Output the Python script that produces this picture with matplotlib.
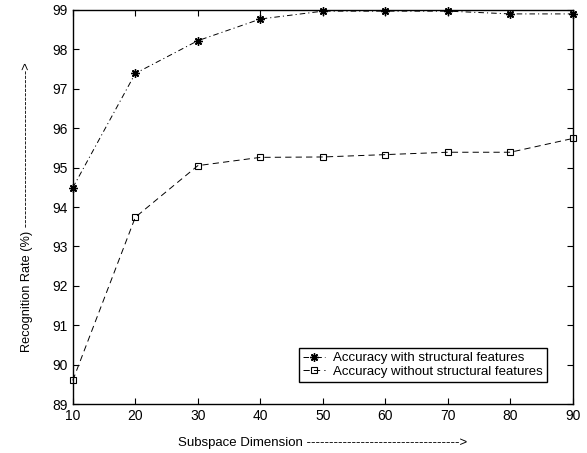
import matplotlib
matplotlib.use('Agg')
import matplotlib.pyplot as plt

plt.rcParams['font.family'] = ['Liberation Sans', 'DejaVu Sans']
plt.rcParams['lines.scale_dashes'] = False

dims = [10, 20, 30, 40, 50, 60, 70, 80, 90]
acc_with = [94.49, 97.39, 98.22, 98.77, 98.97, 98.97, 98.97, 98.9, 98.9]
acc_without = [89.6, 93.74, 95.05, 95.26, 95.27, 95.33, 95.39, 95.39, 95.74]

fig = plt.figure(figsize=(5.87, 4.53), dpi=100)
ax = fig.add_axes([0.124, 0.108, 0.852, 0.870])

ax.plot(dims, acc_with, color='k', linestyle=(0, (4, 2.2, 0.8, 2.2)), linewidth=0.7,
        marker=(8, 2, 0), markersize=6, markeredgewidth=1.0,
        label='Accuracy with structural features', clip_on=False)
ax.plot(dims, acc_without, color='k', linestyle=(0, (4.5, 3)), linewidth=0.7, marker='s',
        markersize=4.5, markerfacecolor='none', markeredgewidth=0.8,
        label='Accuracy without structural features', clip_on=False)

ax.set_xlim(10, 90)
ax.set_ylim(89, 99)
ax.set_xticks(range(10, 91, 10))
ax.set_yticks(range(89, 100))
ax.tick_params(direction='in', top=True, right=True, labelsize=10, length=4, width=0.8)
for s in ax.spines.values():
    s.set_linewidth(1.0)

ax.set_xlabel('Subspace Dimension ' + '-' * 34 + '>', fontsize=9.5, labelpad=10)
ax.set_ylabel('Recognition Rate (%) ' + '-' * 36 + '>', fontsize=9.2, labelpad=14)

leg = ax.legend(loc='lower right', bbox_to_anchor=(0.948, 0.056), borderaxespad=0,
                fontsize=9.5, fancybox=False, framealpha=1, edgecolor='k',
                borderpad=0.3, handlelength=1.7, handletextpad=0.6, labelspacing=0.1)
leg.get_frame().set_linewidth(1.0)

fig.savefig('out.png', dpi=100)
